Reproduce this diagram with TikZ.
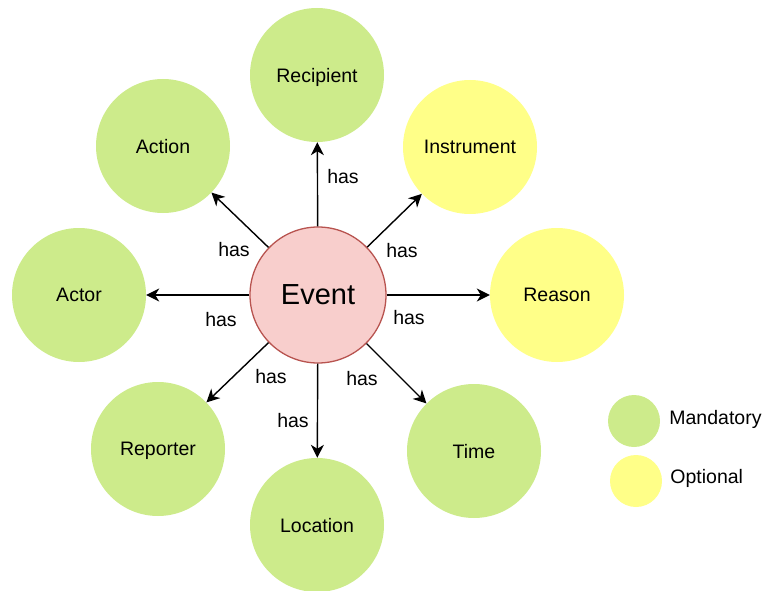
\documentclass[tikz,border=0pt]{standalone}
\usepackage{fontspec}
\setmainfont{Liberation Sans}
\usetikzlibrary{arrows.meta, positioning}

\definecolor{mandgreen}{HTML}{CDEB8B}
\definecolor{optyellow}{HTML}{FFFF88}
\definecolor{evfill}{HTML}{F8CECC}
\definecolor{evline}{HTML}{B85450}

\tikzset{
  ent/.style={circle, minimum size=134pt, inner sep=0pt, text depth=0pt, font=\fontsize{19.5}{23}\selectfont},
  mand/.style={ent, fill=mandgreen},
  opt/.style={ent, fill=optyellow},
  hasarrow/.style={-{Stealth[length=13pt,width=13pt,inset=4pt]}, line width=1.4pt},
  haslbl/.style={inner sep=0pt, font=\fontsize{19.5}{23}\selectfont},
  keydot/.style={circle, minimum size=52pt, inner sep=0pt},
  keytext/.style={inner sep=0pt, text depth=0pt, font=\fontsize{19.5}{23}\selectfont},
}

\begin{document}
\begin{tikzpicture}[x=1pt, y=-1pt]
\useasboundingbox (0,0) rectangle (765,591);

\node[circle, minimum size=136pt, inner sep=0pt, text depth=0pt, fill=evfill, draw=evline, line width=1.3pt, font=\fontsize{29}{34}\selectfont] (ev) at (318,295) {Event};

\node[mand] (rec) at (317,75) {Recipient};
\node[mand] (act) at (163,146) {Action};
\node[opt] (ins) at (470,147) {Instrument};
\node[mand] (actor) at (79,295) {Actor};
\node[opt] (rea) at (557,295) {Reason};
\node[mand] (rep) at (158,449) {Reporter};
\node[mand] (loc) at (317,525) {Location};
\node[mand] (tim) at (474,451) {Time};

\draw[hasarrow] (ev) -- (rec);
\draw[hasarrow] (ev) -- (act);
\draw[hasarrow] (ev) -- (ins);
\draw[hasarrow] (ev) -- (actor);
\draw[hasarrow] (ev) -- (rea);
\draw[hasarrow] (ev) -- (rep);
\draw[hasarrow] (ev) -- (loc);
\draw[hasarrow] (ev) -- (tim);

% edge labels
\node[haslbl] (hrec) at (343,177) {has};
\node[haslbl] (hact) at (234,250) {has};
\node[haslbl] (hins) at (402,251) {has};
\node[haslbl] (hactor) at (221,320) {has};
\node[haslbl] (hrea) at (409,318) {has};
\node[haslbl] (hrep) at (271,377) {has};
\node[haslbl] (hloc) at (293,421) {has};
\node[haslbl] (htim) at (362,379) {has};

% legend
\node[keydot, fill=mandgreen] (kmand) at (634,421) {};
\node[keydot, fill=optyellow] (kopt) at (636,481) {};
\node[keytext, right=9pt of kmand, yshift=4pt] (tmand) {Mandatory};
\node[keytext, right=8pt of kopt, yshift=5pt] (topt) {Optional};
\end{tikzpicture}
\end{document}
